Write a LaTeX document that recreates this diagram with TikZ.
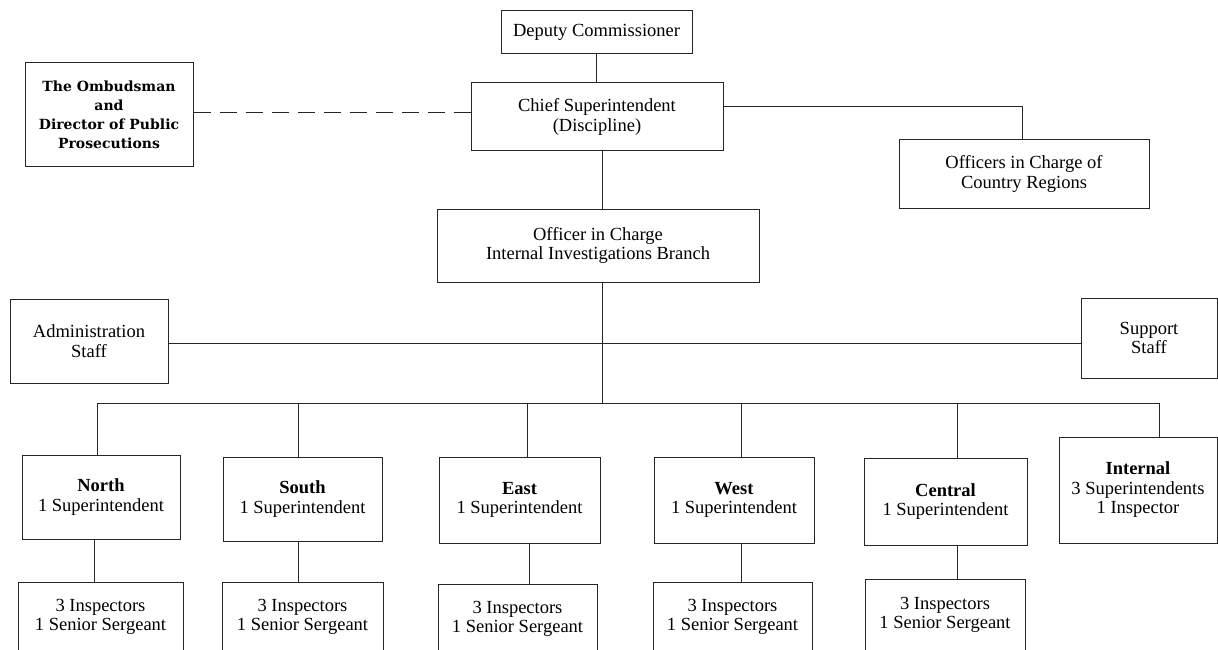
\documentclass[tikz,border=0pt]{standalone}
\usepackage{fontspec}
\setmainfont{Liberation Serif}
\newfontfamily\ombfont{DejaVu Serif}
\begin{document}
\begin{tikzpicture}[x=1pt,y=-1pt,
  box/.style={draw=black!85,line width=1pt,rectangle,inner sep=0pt,align=center,
    font=\fontsize{18.5}{19.5}\selectfont},
  link/.style={draw=black!85,line width=1pt},
  dashlink/.style={link,dash pattern=on 17pt off 9pt}]
\useasboundingbox (0,0) rectangle (1218,650);
\clip (0,0) rectangle (1218,650);
% top part
\node[box,minimum width=191pt,minimum height=43pt] (dep) at (596.5,32.5) {Deputy Commissioner};
\node[box,minimum width=252pt,minimum height=68pt] (chief) at (597,117) {Chief Superintendent\\(Discipline)};
\node[box,minimum width=168pt,minimum height=103pt,font=\ombfont\bfseries\fontsize{14}{19}\selectfont] (omb) at (109,114.5) {The Ombudsman\\and\\Director of Public\\Prosecutions};
\node[box,minimum width=250pt,minimum height=68pt] (ofc) at (1024,174) {Officers in Charge of\\Country Regions};
\node[box,minimum width=322pt,minimum height=73pt] (oic) at (598,245.5) {Officer in Charge\\Internal Investigations Branch};
\node[box,minimum width=158pt,minimum height=84pt] (admin) at (89,341) {Administration\\Staff};
\node[box,minimum width=136pt,minimum height=80pt] (support) at (1149,338) {Support\\Staff};
% regions
\node[box,minimum width=158pt,minimum height=84pt] (north) at (101,497) {\textbf{North}\\1 Superintendent};
\node[box,minimum width=159pt,minimum height=84pt] (south) at (302.5,499) {\textbf{South}\\1 Superintendent};
\node[box,minimum width=161pt,minimum height=86pt] (east) at (519.5,500) {\textbf{East}\\1 Superintendent};
\node[box,minimum width=160pt,minimum height=86pt] (west) at (734,500) {\textbf{West}\\1 Superintendent};
\node[box,minimum width=163pt,minimum height=87pt] (central) at (945.5,501.5) {\textbf{Central}\\1 Superintendent};
\node[box,minimum width=158pt,minimum height=106pt] (internal) at (1138,490) {\textbf{Internal}\\3 Superintendents\\1 Inspector};
% inspectors
\node[box,minimum width=165pt,minimum height=70pt] (nI) at (100.5,617) {3 Inspectors\\1 Senior Sergeant};
\node[box,minimum width=161pt,minimum height=70pt] (sI) at (302.5,617) {3 Inspectors\\1 Senior Sergeant};
\node[box,minimum width=159pt,minimum height=70pt] (eI) at (517.5,619) {3 Inspectors\\1 Senior Sergeant};
\node[box,minimum width=159pt,minimum height=70pt] (wI) at (732.5,617) {3 Inspectors\\1 Senior Sergeant};
\node[box,minimum width=160pt,minimum height=72pt] (cI) at (945,615) {3 Inspectors\\1 Senior Sergeant};
% connector coordinates
\coordinate (trunk) at (602,403);
\coordinate (staffy) at (602,343);
\coordinate (cr) at (1022,107);
\coordinate (dsh) at (300,113);
\coordinate (bN) at (97,403);
\coordinate (bS) at (298,403);
\coordinate (bE) at (527,403);
\coordinate (bW) at (741,403);
\coordinate (bC) at (957,403);
\coordinate (bI) at (1159,403);
\coordinate (lN) at (94,560);
\coordinate (lS) at (298,560);
\coordinate (lE) at (529,560);
\coordinate (lW) at (741,560);
\coordinate (lC) at (957,560);
% connectors
\draw[link] (dep.south) -- (dep.south |- chief.north);
\draw[link] (chief.south -| trunk) -- (oic.north -| trunk);
\draw[link] (oic.south -| trunk) -- (trunk);
\draw[link] (chief.east |- cr) -- (cr) -- (cr |- ofc.north);
\draw[dashlink] (omb.east |- dsh) -- (chief.west |- dsh);
\draw[link] (admin.east |- staffy) -- (support.west |- staffy);
\draw[link] (bN) -- (bI);
\draw[link] (bN) -- (bN |- north.north);
\draw[link] (bS) -- (bS |- south.north);
\draw[link] (bE) -- (bE |- east.north);
\draw[link] (bW) -- (bW |- west.north);
\draw[link] (bC) -- (bC |- central.north);
\draw[link] (bI) -- (bI |- internal.north);
\draw[link] (lN |- north.south) -- (lN |- nI.north);
\draw[link] (lS |- south.south) -- (lS |- sI.north);
\draw[link] (lE |- east.south) -- (lE |- eI.north);
\draw[link] (lW |- west.south) -- (lW |- wI.north);
\draw[link] (lC |- central.south) -- (lC |- cI.north);
\end{tikzpicture}
\end{document}
